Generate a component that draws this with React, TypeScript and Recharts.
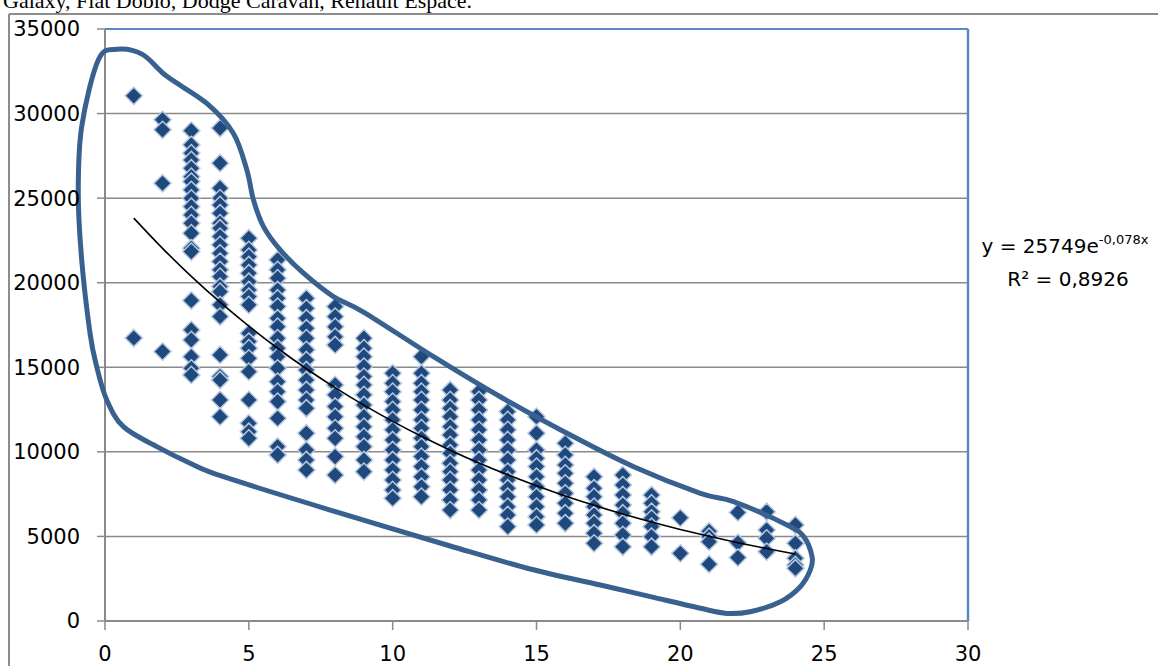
import {
  ComposedChart,
  Scatter,
  Line,
  XAxis,
  YAxis,
  CartesianGrid,
  ReferenceLine,
} from "recharts";

// vehicle age (years) -> observed prices
const ages = [1, 2, 3, 4, 5, 6, 7, 8, 9, 10, 11, 12, 13, 14, 15, 16, 17, 18, 19, 20, 21, 22, 23, 24];
const prices: number[][] = [
  [31050, 16730],
  [29630, 29040, 25880, 15930],
  [28990, 28150, 27660, 27260, 26770, 26270, 25980, 25490, 24990, 24500, 24010, 23520, 22930, 22040, 21840, 18950, 17210, 16620, 15630, 14940, 14550],
  [29140, 27070, 25590, 25000, 24600, 24110, 23520, 23220, 22730, 22240, 21740, 21250, 20760, 20360, 19770, 19470, 18690, 18000, 15730, 14450, 14250, 13070, 12080],
  [22630, 21940, 21540, 21050, 20560, 20060, 19570, 19180, 18690, 17010, 16520, 16130, 15530, 14740, 13070, 11690, 11190, 10800],
  [21350, 20760, 20270, 19570, 19080, 18590, 17900, 17400, 16720, 16130, 15630, 14940, 14150, 13560, 12970, 11990, 10310, 9820],
  [19080, 18490, 17900, 17310, 16720, 16030, 15430, 14840, 14250, 13660, 13070, 12580, 11100, 10110, 9520, 8930],
  [18590, 18000, 17400, 16810, 16320, 13960, 13370, 12680, 12080, 11400, 10800, 9720, 8630],
  [16720, 16130, 15630, 15040, 14450, 13960, 13370, 12770, 12080, 11490, 10900, 10310, 9520, 8830],
  [14650, 14060, 13560, 12970, 12480, 11890, 11300, 10700, 10110, 9520, 8930, 8340, 7750, 7260],
  [15630, 14650, 14060, 13560, 13070, 12480, 11890, 11400, 10800, 10310, 9720, 9130, 8530, 7940, 7350],
  [13660, 13070, 12580, 12080, 11490, 11000, 10410, 9920, 9330, 8830, 8340, 7750, 7160, 6560],
  [13560, 13070, 12480, 11890, 11300, 10700, 10110, 9520, 8930, 8340, 7750, 7160, 6560],
  [12380, 11890, 11300, 10700, 10110, 9520, 8830, 8340, 7850, 7350, 6760, 6270, 5580],
  [12080, 11100, 10110, 9620, 9130, 8530, 7940, 7350, 6760, 6170, 5680],
  [10510, 9820, 9230, 8730, 8140, 7550, 6960, 6370, 5780],
  [8530, 7850, 7350, 6760, 6270, 5780, 5190, 4590],
  [8630, 8040, 7450, 6860, 6370, 5780, 5090, 4390],
  [7450, 6960, 6460, 6070, 5580, 4990, 4390],
  [6100, 4000],
  [5300, 4990, 4690, 3360],
  [6420, 4620, 3750],
  [6460, 5380, 4890, 4100],
  [5680, 4590, 3710, 3310, 3120],
];

// exponential trendline y = 25749e^-0,078x, read at each age
const trendValues = [
  23817, 22030, 20377, 18848, 17434, 16126, 14915, 13796, 12761, 11804, 10918, 10099,
  9341, 8640, 7992, 7392, 6838, 6325, 5850, 5411, 5005, 4629, 4282, 3961,
];

// hand-drawn outline around the cloud, in data units (age, price)
const loopAges = [
  0.41, 1.3, 2.15, 3.54, 4.46, 4.93, 5.16, 5.51, 6.09, 6.9, 7.94, 9.0, 11.42, 13.74, 16.06,
  18.38, 20.7, 21.85, 23.71, 24.29, 24.58, 24.52, 24.17, 23.48, 22.43, 21.62, 20.7, 18.96,
  17.22, 14.78, 12.0, 7.83, 4.12, 2.96, 1.8, 0.64, 0.06, -0.29, -0.52, -0.81, -0.93, -0.81,
  -0.23,
];
const loopPrices = [
  33800, 33500, 32200, 30600, 28840, 26670, 24900, 23320, 21940, 20560, 19180, 18250, 15630,
  13260, 11100, 9120, 7550, 7060, 5680, 4990, 3800, 3020, 2030, 1140, 550, 450, 750, 1440,
  2130, 3075, 4435, 6560, 8530, 9330, 10310, 11490, 13070, 15040, 17010, 21350, 25290, 29230,
  33180,
];

const xTicks = [0, 5, 10, 15, 20, 25, 30];
const yTicks = [0, 5000, 10000, 15000, 20000, 25000, 30000, 35000];

const points = ages.flatMap((age, i) => prices[i].map((p) => ({ x: age, y: p })));
const trend = ages.map((age, i) => ({ x: age, y: trendValues[i] }));

const FONT = "'DejaVu Sans', sans-serif";
const GRID = "#8a8a8a";

function Diamond(props: any) {
  const { cx, cy } = props;
  if (cx == null || cy == null) return null;
  const r = 8.6;
  return (
    <path
      d={`M${cx},${cy - r}L${cx + r},${cy}L${cx},${cy + r}L${cx - r},${cy}Z`}
      fill="#1f497d"
      stroke="#b6c7df"
      strokeWidth={1.5}
    />
  );
}

function closedSpline(pts: { x: number; y: number }[]) {
  const n = pts.length;
  let d = `M${pts[0].x},${pts[0].y}`;
  for (let i = 0; i < n; i++) {
    const p0 = pts[(i - 1 + n) % n];
    const p1 = pts[i];
    const p2 = pts[(i + 1) % n];
    const p3 = pts[(i + 2) % n];
    const c1x = p1.x + (p2.x - p0.x) / 6;
    const c1y = p1.y + (p2.y - p0.y) / 6;
    const c2x = p2.x - (p3.x - p1.x) / 6;
    const c2y = p2.y - (p3.y - p1.y) / 6;
    d += ` C${c1x},${c1y} ${c2x},${c2y} ${p2.x},${p2.y}`;
  }
  return d + "Z";
}

// the reference segment (0,0)-(30,35000) hands us the chart's own scale
function LoopShape(props: any) {
  const { x1, y1, x2, y2 } = props;
  if ([x1, y1, x2, y2].some((v) => v == null || isNaN(v))) return null;
  const sx = (x2 - x1) / 30;
  const sy = (y2 - y1) / 35000;
  const pts = loopAges.map((a, i) => ({ x: x1 + a * sx, y: y1 + loopPrices[i] * sy }));
  return <path d={closedSpline(pts)} fill="none" stroke="#38618f" strokeWidth={5} />;
}

export default function App() {
  return (
    <div
      style={{
        position: "absolute",
        left: 0,
        top: 0,
        width: 1158,
        height: 666,
        background: "#fff",
        overflow: "hidden",
      }}
    >
      <ComposedChart
        width={1158}
        height={666}
        margin={{ top: 29, right: 190, bottom: 0, left: 0 }}
      >
        <CartesianGrid horizontal vertical={false} stroke={GRID} strokeWidth={1.5} />
        <XAxis
          type="number"
          dataKey="x"
          domain={[0, 30]}
          ticks={xTicks}
          height={45}
          tickSize={9}
          tickMargin={16}
          axisLine={{ stroke: GRID, strokeWidth: 2 }}
          tickLine={{ stroke: GRID, strokeWidth: 1.5 }}
          tick={{ fill: "#000", fontSize: 21, fontFamily: FONT }}
        />
        <YAxis
          type="number"
          dataKey="y"
          domain={[0, 35000]}
          ticks={yTicks}
          width={105}
          tickSize={8}
          tickMargin={17}
          axisLine={{ stroke: GRID, strokeWidth: 2 }}
          tickLine={{ stroke: GRID, strokeWidth: 1.5 }}
          tick={{ fill: "#000", fontSize: 21, fontFamily: FONT }}
        />
        <Scatter data={points} dataKey="y" shape={Diamond} isAnimationActive={false} />
        <Line
          data={trend}
          dataKey="y"
          type="monotone"
          stroke="#000"
          strokeWidth={1.6}
          dot={false}
          activeDot={false}
          isAnimationActive={false}
          zIndex={650}
        />
        <ReferenceLine y={35000} stroke="#5b87c5" strokeWidth={2} zIndex={700} />
        <ReferenceLine x={30} stroke="#5b87c5" strokeWidth={2.5} zIndex={700} />
        <ReferenceLine
          segment={[
            { x: 0, y: 0 },
            { x: 30, y: 35000 },
          ]}
          ifOverflow="visible"
          shape={LoopShape}
          zIndex={800}
        />
      </ComposedChart>
      <svg
        width={1158}
        height={666}
        style={{ position: "absolute", left: 0, top: 0, pointerEvents: "none" }}
      >
        <line x1={9} y1={14} x2={1158} y2={14} stroke="#8c8c8c" strokeWidth={2} />
        <line x1={9} y1={14} x2={9} y2={666} stroke="#8c8c8c" strokeWidth={2} />
        <text x={3} y={8} fontFamily="'Liberation Serif', serif" fontSize={22} fill="#000">
          Galaxy, Fiat Doblo, Dodge Caravan, Renault Espace.
        </text>
        <text x={1065} y={253} textAnchor="middle" fontFamily={FONT} fontSize={20} fill="#000">
          y = 25749e
          <tspan fontSize={13} dy={-9}>
            -0,078x
          </tspan>
        </text>
        <text x={1068} y={286} textAnchor="middle" fontFamily={FONT} fontSize={20} fill="#000">
          R² = 0,8926
        </text>
      </svg>
    </div>
  );
}
